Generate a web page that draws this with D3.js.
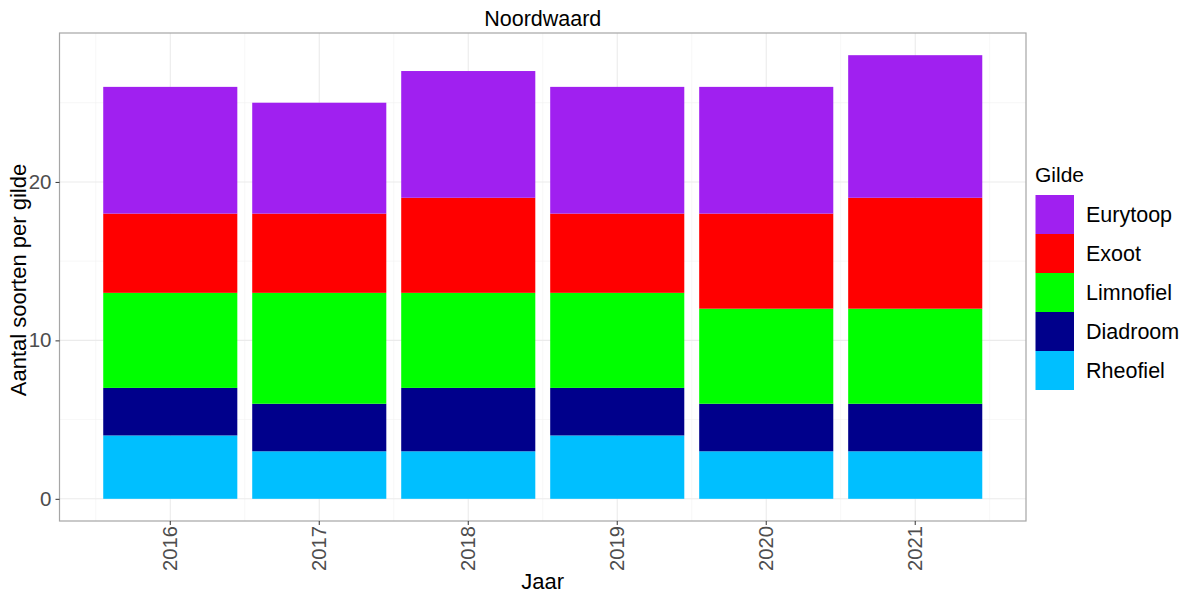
<!DOCTYPE html>
<html><head><meta charset="utf-8">
<script src="https://cdn.jsdelivr.net/npm/d3@7"></script>
<style>body{margin:0;background:#fff;font-family:"Liberation Sans",Arial,sans-serif}</style>
</head><body><svg id="c" width="1189" height="594"></svg>
<script>
const years = ["2016","2017","2018","2019","2020","2021"];
const guilds = ["Rheofiel","Diadroom","Limnofiel","Exoot","Eurytoop"];
const rheofiel  = [4,3,3,4,3,3];
const diadroom  = [3,3,4,3,3,3];
const limnofiel = [6,7,6,6,6,6];
const exoot     = [5,5,6,5,6,7];
const eurytoop  = [8,7,8,8,8,9];
const yTicks = [0,10,20];
const colors = {Rheofiel:"#00BFFF",Diadroom:"#00008B",Limnofiel:"#00FF00",Exoot:"#FF0000",Eurytoop:"#A020F0"};

const rows = years.map((y,i)=>({year:y,Rheofiel:rheofiel[i],Diadroom:diadroom[i],Limnofiel:limnofiel[i],Exoot:exoot[i],Eurytoop:eurytoop[i]}));
const stack = d3.stack().keys(guilds)(rows);

const svg = d3.select("#c");
const L=59.5,R=1026,T=33,B=521;
const x = d3.scaleBand().domain(years).range([L,R]).paddingInner(0.1).paddingOuter(0.2935);
const y = d3.scaleLinear().domain([-1.4,29.4]).range([B,T]);

const g = svg.append("g");
// grid
const step = x.step(), bw = x.bandwidth();
const centers = years.map(d=>x(d)+bw/2);
const minorX = [centers[0]-step/2, ...centers.map(c=>c+step/2)];
g.selectAll(".mx").data(minorX).join("line").attr("x1",d=>d).attr("x2",d=>d).attr("y1",T).attr("y2",B).attr("stroke","#f2f2f2").attr("stroke-width",0.6);
g.selectAll(".my").data([5,15,25]).join("line").attr("x1",L).attr("x2",R).attr("y1",d=>y(d)).attr("y2",d=>y(d)).attr("stroke","#f2f2f2").attr("stroke-width",0.6);
g.selectAll(".gx").data(centers).join("line").attr("x1",d=>d).attr("x2",d=>d).attr("y1",T).attr("y2",B).attr("stroke","#ebebeb").attr("stroke-width",1.1);
g.selectAll(".gy").data(yTicks).join("line").attr("x1",L).attr("x2",R).attr("y1",d=>y(d)).attr("y2",d=>y(d)).attr("stroke","#ebebeb").attr("stroke-width",1.1);

// bars
g.selectAll(".s").data(stack).join("g").attr("fill",d=>colors[d.key])
 .selectAll("rect").data(d=>d).join("rect")
 .attr("x",d=>x(d.data.year)).attr("width",bw)
 .attr("y",d=>y(d[1])).attr("height",d=>y(d[0])-y(d[1]));

// border
svg.append("rect").attr("x",L).attr("y",T).attr("width",R-L).attr("height",B-T).attr("fill","none").attr("stroke","#a6a6a6").attr("stroke-width",1.2);

// axes
const ya = svg.append("g").attr("transform",`translate(${L},0)`).call(d3.axisLeft(y).tickValues(yTicks).tickSize(4).tickPadding(4));
ya.select(".domain").remove();
ya.selectAll("line").attr("stroke","#333");
ya.selectAll("text").attr("font-size",20.5).attr("fill","#4d4d4d").attr("font-family","Liberation Sans, Arial, sans-serif");

const xa = svg.append("g").attr("transform",`translate(0,${B})`).call(d3.axisBottom(x).tickSize(4).tickPadding(4));
xa.select(".domain").remove();
xa.selectAll("line").attr("stroke","#333");
xa.selectAll("text").attr("font-size",20.2).attr("fill","#4d4d4d").attr("font-family","Liberation Sans, Arial, sans-serif")
 .attr("transform","rotate(-90)").attr("text-anchor","end").attr("dy","0.35em").attr("x",-5).attr("y",0);

// titles
svg.append("text").attr("x",(L+R)/2).attr("y",26).attr("text-anchor","middle").attr("font-size",21.5).text("Noordwaard");
svg.append("text").attr("x",(L+R)/2).attr("y",589).attr("text-anchor","middle").attr("font-size",22).text("Jaar");
svg.append("text").attr("transform",`translate(25.5,280) rotate(-90)`).attr("text-anchor","middle").attr("font-size",22).text("Aantal soorten per gilde");

// legend
const lg = svg.append("g");
lg.append("text").attr("x",1035).attr("y",182).attr("font-size",21).text("Gilde");
const legOrder = guilds.slice().reverse();
const ks = 39;
lg.selectAll("rect").data(legOrder).join("rect").attr("x",1035.5).attr("y",(d,i)=>195+i*ks).attr("width",38.5).attr("height",ks).attr("fill",d=>colors[d]);
lg.selectAll(".lt").data(legOrder).join("text").attr("x",1086).attr("y",(d,i)=>195+i*ks+ks/2).attr("dy","0.35em").attr("font-size",21.5).text(d=>d);
</script></body></html>
